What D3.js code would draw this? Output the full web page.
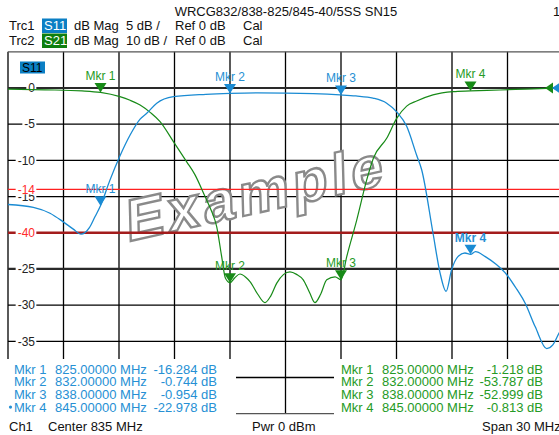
<!DOCTYPE html>
<html>
<head>
<meta charset="utf-8">
<script src="https://cdn.jsdelivr.net/npm/d3@7"></script>
<style>
  html, body { margin: 0; padding: 0; background: #fff; }
  svg { display: block; font-family: "Liberation Sans", Arial, sans-serif; }
</style>
</head>
<body>
<div id="chart"></div>
<script>
// ---- data ----
const s11Freq = [820, 821.37, 822.27, 822.99, 823.53, 823.95, 824.4, 824.7, 825, 825.5, 826.05, 826.6, 827.14, 827.5, 828.04, 828.94, 830.7, 832, 833.5, 835, 836.5, 837.95, 838.8, 839.73, 840.47, 841.01, 841.55, 842.09, 842.36, 842.97, 843.35, 843.68, 843.98, 844.32, 844.7, 845, 845.27, 845.8, 846.4, 846.96, 847.5, 847.95, 848.5, 849.12, 849.45, 849.78, 850]
const s11Db = [-16.1, -16.5, -17.3, -18.5, -19.5, -20.2, -19.3, -17.8, -16.28, -12.8, -9.4, -6.5, -4.3, -3.5, -2.1, -1.2, -0.87, -0.744, -0.68, -0.7, -0.78, -0.95, -1.1, -1.4, -2.1, -3.3, -5.3, -9.3, -11.3, -20, -25.5, -28.1, -25.1, -23.3, -22.8, -22.98, -22.6, -23.3, -24.4, -25.8, -27.8, -29.7, -33, -36, -35.5, -33.9, -33]

const s21Freq = [820, 822, 824, 825, 826.05, 826.6, 827.14, 827.7, 828.22, 828.94, 829.66, 830.11, 830.65, 831.0, 831.28, 831.55, 831.75, 832, 832.25, 832.54, 832.85, 833.08, 833.5, 833.89, 834.2, 834.52, 834.9, 835.24, 835.6, 835.96, 836.3, 836.59, 836.9, 837.23, 837.68, 838, 838.31, 838.85, 839.39, 839.75, 840.47, 841.01, 841.55, 842.09, 842.97, 844.05, 845, 846.6, 848, 849.1, 850]
const s21Db = [-0.3, -0.5, -0.8, -1.22, -2.4, -3.4, -4.7, -6.8, -9.3, -14.8, -20.4, -24, -30, -34, -38.3, -46.6, -52.5, -53.79, -52.5, -51.4, -52.3, -53.5, -57, -59.3, -57.5, -54, -51.5, -50.8, -51.5, -53, -56.5, -59.3, -57, -53, -52.2, -53.0, -46.6, -36.5, -25.4, -19.4, -13.9, -8.4, -5.0, -3.6, -1.9, -1.0, -0.81, -0.55, -0.3, -0.1, 0]

const mkrNames = ["Mkr 1", "Mkr 2", "Mkr 3", "Mkr 4"]
const mkrFreq = [825, 832, 838, 845]
const s11Mkr = [-16.284, -0.744, -0.954, -22.978]
const s21Mkr = [-1.218, -53.787, -52.999, -0.813]
const s11MkrText = ["-16.284 dB", "-0.744 dB", "-0.954 dB", "-22.978 dB"]
const s21MkrText = ["-1.218 dB", "-53.787 dB", "-52.999 dB", "-0.813 dB"]

const yTicks = [5, 0, -5, -10, -15, -20, -25, -30, -35, -40, -45]
const yLabels = ["0", "-5", "-10", "-15", "-25", "-30", "-35"]
const xTicks = [820, 823, 826, 829, 832, 835, 838, 841, 844, 847, 850]
const s11Limit = -14
const s21Limit = -40

const blue = "#1a8bd3"
const blueTxt = "#2690d4"
const green = "#178a17"
const greenTxt = "#259a25"

const W = 559, H = 435
const svg = d3.select("#chart").append("svg").attr("width", W).attr("height", H)

const x = d3.scaleLinear().domain([820, 850]).range([8, 563])
const y11 = d3.scaleLinear().domain([5, -45]).range([51.8, 413.7])
const y21 = d3.scaleLinear().domain([10, -90]).range([51.8, 413.7])

// ---- grid ----
const grid = svg.append("g")
grid.selectAll("line.v").data(xTicks).enter().append("line")
    .attr("x1", (d) => x(d)).attr("x2", (d) => x(d))
    .attr("y1", y11(5)).attr("y2", y11(-45))
    .attr("stroke", "#000").attr("stroke-width", 1.3)
grid.selectAll("line.h").data(yTicks).enter().append("line")
    .attr("x1", 8).attr("x2", W)
    .attr("y1", (d) => y11(d)).attr("y2", (d) => y11(d))
    .attr("stroke", (d) => (d == 0 || d == -25) ? "#2a2a2a" : (d == 5 || d == -45) ? "#555" : "#000")
    .attr("stroke-width", (d) => (d == 0 || d == -25) ? 2.2 : 1.3)

// ---- watermark ----
svg.append("text")
    .attr("transform", "translate(257,213) rotate(-12.5) skewX(-11)")
    .attr("text-anchor", "middle")
    .attr("font-size", 58).attr("font-weight", "bold")
    .attr("letter-spacing", 4)
    .attr("fill", "#fff").attr("stroke", "#8a8a8a").attr("stroke-width", 2.4)
    .text("Example")

// ---- limit lines ----
svg.append("line").attr("x1", 8).attr("x2", W)
    .attr("y1", y11(s11Limit)).attr("y2", y11(s11Limit))
    .attr("stroke", "#ff2020").attr("stroke-width", 1.2)
svg.append("line").attr("x1", 8).attr("x2", W)
    .attr("y1", y21(s21Limit)).attr("y2", y21(s21Limit))
    .attr("stroke", "#a31c1c").attr("stroke-width", 2.6)

// ---- y labels ----
const ylab = svg.append("g").attr("font-size", 12)
const addLabel = (txt, yy, col) => {
    const t = ylab.append("text").attr("x", 35).attr("y", yy + 4.3)
        .attr("text-anchor", "end").attr("fill", col).text(txt)
    const bb = t.node().getBBox()
    ylab.insert("rect", () => t.node())
        .attr("x", bb.x - 2).attr("y", yy - 5).attr("width", bb.width + 3).attr("height", 10)
        .attr("fill", "#fff")
}
yLabels.forEach((l) => addLabel(l, y11(+l), "#222"))
addLabel(String(s11Limit), y11(s11Limit), "#ff2a2a")
addLabel(String(s21Limit), y21(s21Limit), "#ff2a2a")

// ---- traces ----
const line11 = d3.line().x((d) => x(d[0])).y((d) => y11(d[1])).curve(d3.curveMonotoneX)
const line21 = d3.line().x((d) => x(d[0])).y((d) => y21(d[1])).curve(d3.curveMonotoneX)
svg.append("path").datum(d3.zip(s21Freq, s21Db)).attr("d", line21)
    .attr("fill", "none").attr("stroke", green).attr("stroke-width", 1.2)
svg.append("path").datum(d3.zip(s11Freq, s11Db)).attr("d", line11)
    .attr("fill", "none").attr("stroke", blue).attr("stroke-width", 1.3)

// ---- markers ----
const tri = (px, py) => `M${px - 6},${py - 9.5}L${px + 6},${py - 9.5}L${px},${py}Z`
const drawMarkers = (vals, yS, col, txtCol, boldIdx) => {
    const g = svg.append("g")
    vals.forEach((v, i) => {
        const px = x(mkrFreq[i]), py = yS(v)
        g.append("path").attr("d", tri(px, py)).attr("fill", col)
        g.append("text").attr("x", px).attr("y", py - 12.5)
            .attr("text-anchor", "middle").attr("font-size", 12)
            .attr("font-weight", i == boldIdx ? "bold" : "normal")
            .attr("fill", txtCol).text(mkrNames[i])
    })
}
drawMarkers(s21Mkr, y21, green, greenTxt, -1)
drawMarkers(s11Mkr, y11, blue, blueTxt, 3)

// reference arrows on the right edge
svg.append("path").attr("d", `M545,${y21(0)}L553,${y21(0) - 5.5}L553,${y21(0) + 5.5}Z`).attr("fill", green)
svg.append("path").attr("d", `M552,${y11(0)}L560,${y11(0) - 5.5}L560,${y11(0) + 5.5}Z`).attr("fill", blue)

// S11 tag inside the plot
svg.append("rect").attr("x", 20).attr("y", 61.5).attr("width", 25).attr("height", 12).attr("fill", "#0b7fc4")
svg.append("text").attr("x", 22).attr("y", 72).attr("font-size", 12).attr("fill", "#000").text("S11")

// ---- header ----
const hdr = svg.append("g").attr("font-size", 13).attr("fill", "#111")
hdr.append("text").attr("x", 286).attr("y", 16).attr("text-anchor", "middle").text("WRCG832/838-825/845-40/5SS SN15")
hdr.append("text").attr("x", 553).attr("y", 16).text("1")
const trc = [
    { name: "Trc1", s: "S11", bg: "#0b7fc4", scale: "5 dB /", yb: 30 },
    { name: "Trc2", s: "S21", bg: "#0f7f0f", scale: "10 dB /", yb: 45 }
]
trc.forEach((t) => {
    hdr.append("rect").attr("x", 42).attr("y", t.yb - 11.5).attr("width", 25).attr("height", 14.5).attr("fill", t.bg)
    hdr.append("text").attr("x", 9).attr("y", t.yb).text(t.name)
    hdr.append("text").attr("x", 44).attr("y", t.yb).attr("fill", "#fff").text(t.s)
    hdr.append("text").attr("x", 74).attr("y", t.yb).text("dB Mag")
    hdr.append("text").attr("x", 126).attr("y", t.yb).text(t.scale)
    hdr.append("text").attr("x", 175).attr("y", t.yb).text("Ref 0 dB")
    hdr.append("text").attr("x", 243).attr("y", t.yb).text("Cal")
})

// ---- marker tables ----
svg.append("rect").attr("x", 0).attr("y", 359).attr("width", 236).attr("height", 76).attr("fill", "#fff")
svg.append("rect").attr("x", 334).attr("y", 359).attr("width", 225).attr("height", 76).attr("fill", "#fff")
svg.append("rect").attr("x", 0).attr("y", 415).attr("width", W).attr("height", 20).attr("fill", "#fff")

const rowY = [373.5, 386.2, 398.9, 411.6]
const tbl = svg.append("g").attr("font-size", 13)
mkrNames.forEach((m, i) => {
    tbl.append("text").attr("x", 14).attr("y", rowY[i]).attr("fill", blueTxt).text(m)
    tbl.append("text").attr("x", 55).attr("y", rowY[i]).attr("fill", blueTxt).text(mkrFreq[i].toFixed(5) + " MHz")
    tbl.append("text").attr("x", 217).attr("y", rowY[i]).attr("text-anchor", "end").attr("fill", blueTxt).text(s11MkrText[i])
    tbl.append("text").attr("x", 341).attr("y", rowY[i]).attr("fill", greenTxt).text(m)
    tbl.append("text").attr("x", 382).attr("y", rowY[i]).attr("fill", greenTxt).text(mkrFreq[i].toFixed(5) + " MHz")
    tbl.append("text").attr("x", 543).attr("y", rowY[i]).attr("text-anchor", "end").attr("fill", greenTxt).text(s21MkrText[i])
})
tbl.append("circle").attr("cx", 10.5).attr("cy", rowY[3] - 4.5).attr("r", 1.6).attr("fill", blueTxt)

// ---- footer ----
const ft = svg.append("g").attr("font-size", 13).attr("fill", "#111")
ft.append("text").attr("x", 9).attr("y", 431).text("Ch1")
ft.append("text").attr("x", 48).attr("y", 431).text("Center  835 MHz")
ft.append("text").attr("x", 252).attr("y", 431).text("Pwr  0 dBm")
ft.append("text").attr("x", 482).attr("y", 431).text("Span  30 MHz")
</script>
</body>
</html>
